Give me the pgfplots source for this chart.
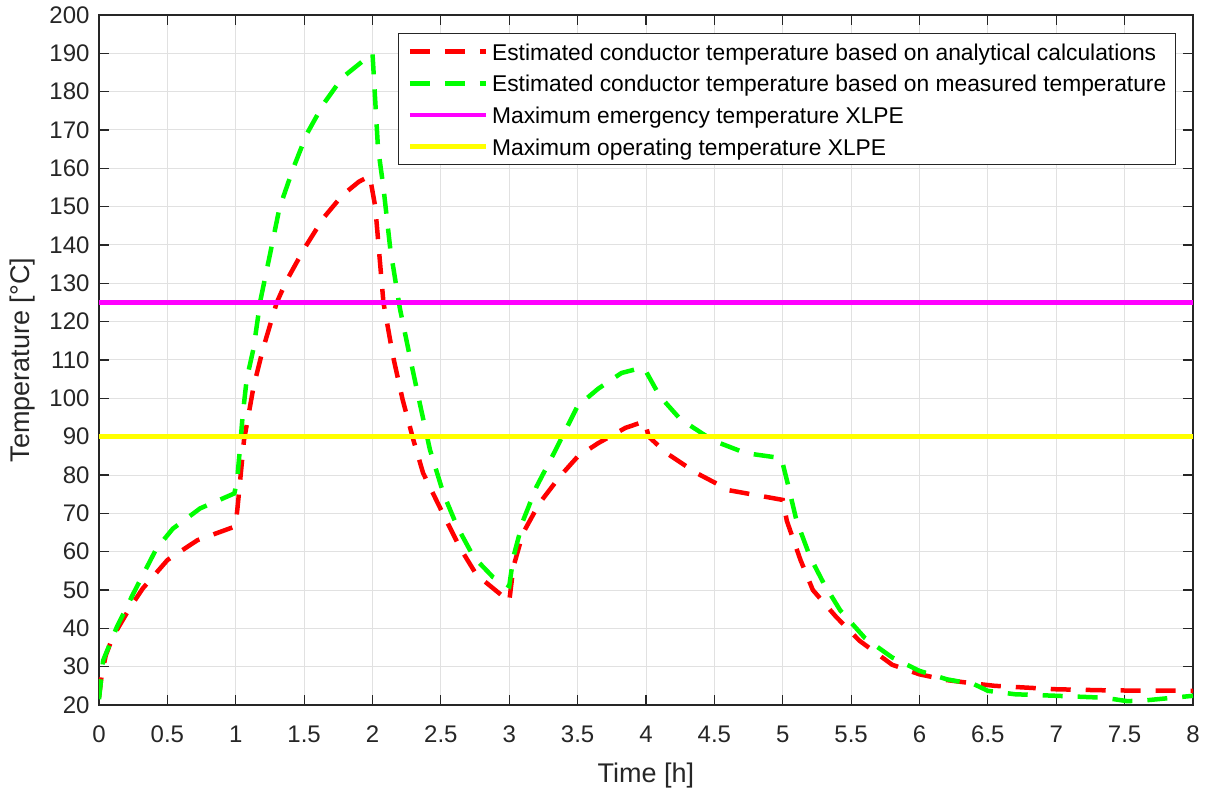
\documentclass[border=0pt]{standalone}
\usepackage{pgfplots}
\pgfplotsset{compat=1.18}
\usepackage{fontspec}
\setmainfont{Liberation Sans}
\definecolor{axgray}{RGB}{38,38,38}
\definecolor{gridgray}{RGB}{225,225,225}
\definecolor{mred}{RGB}{255,0,0}
\definecolor{mgreen}{RGB}{0,255,0}
\definecolor{mmag}{RGB}{255,0,255}
\definecolor{myel}{RGB}{255,255,0}
\begin{document}
\begin{tikzpicture}
\begin{axis}[name=ax, scale only axis, width=1094pt, height=690pt,
  xmin=0, xmax=8, ymin=20, ymax=200,
  xtick={0,0.5,...,8}, ytick={20,30,...,200},
  xticklabels={0,0.5,1,1.5,2,2.5,3,3.5,4,4.5,5,5.5,6,6.5,7,7.5,8},
  yticklabels={20,30,40,50,60,70,80,90,100,110,120,130,140,150,160,170,180,190,200},
  grid=major, major grid style={gridgray, line width=1pt},
  axis line style={axgray, line width=1.2pt},
  tick style={axgray, line width=1.2pt}, tick align=inside, tick pos=both,
  major tick length=10pt,
  ticklabel style={font=\fontsize{24}{28}\selectfont, text=axgray},
  xticklabel style={yshift=-37pt, anchor=base},
  yticklabel style={xshift=-6pt},
  /pgf/number format/assume math mode=true,
  xlabel={Time [h]}, ylabel={Temperature [°C]},
  label style={font=\fontsize{27}{31}\selectfont, text=axgray},
  xlabel style={at={(0.5,0)}, anchor=base, yshift=-77pt},
  ylabel style={yshift=7pt},
  legend cell align=left,
  legend style={at={(0.2733,0.9739)}, anchor=north west, draw=axgray, line width=1.2pt,
    font=\fontsize{22.8}{26}\selectfont, text=black, row sep=7.7pt,
    nodes={inner sep=0pt, text height=20.5pt, text depth=3.5pt},
    inner xsep=9pt, inner ysep=6pt, column sep=0pt},
  legend image code/.code={\draw[#1] (0pt,0pt) -- (76pt,0pt);},
]
\addplot[mred, line width=4.5pt, dash pattern=on 20pt off 15pt] coordinates {
(0,22) (0.02,28) (0.05,33) (0.1,37.7) (0.23,45.6) (0.32,50.4) (0.5,57.8) (0.72,63) (0.99,66.5) (1.0,67)
(1.02,74) (1.06,89) (1.13,103) (1.2,113) (1.3,125) (1.37,130.6) (1.5,139) (1.64,147) (1.78,153) (1.9,156.5) (1.98,158)
(2.02,150) (2.08,125) (2.15,111) (2.22,99.7) (2.3,89) (2.37,80.5) (2.5,71) (2.64,61) (2.76,54) (3.0,47)
(3.03,56) (3.1,64.8) (3.22,72.6) (3.37,79.6) (3.5,84.8) (3.65,88.3) (3.85,92.3) (3.99,94)
(4.02,90) (4.15,85.7) (4.37,80.5) (4.61,76) (4.86,74.4) (5.0,73.5)
(5.03,68) (5.13,57.8) (5.22,50) (5.39,43) (5.56,36.8) (5.8,30.5) (6.0,28) (6.2,26.5) (6.4,25.6) (6.55,25)
(7.0,24.1) (7.4,23.8) (8,23.7)};
\addlegendentry{\hspace{4pt}Estimated conductor temperature based on analytical calculations}
\addplot[mgreen, line width=4.5pt, dash pattern=on 20pt off 15pt] coordinates {
(0,21.5) (0.03,31.6) (0.13,40.3) (0.25,49) (0.42,60.8) (0.54,66) (0.74,71.3) (0.99,75.2)
(1.01,78.7) (1.03,86.6) (1.05,95.3) (1.08,105) (1.13,113) (1.18,125.5) (1.25,137.5) (1.32,149.7) (1.42,160)
(1.52,169) (1.64,176.7) (1.78,183.7) (1.93,188) (2.0,190)
(2.02,177.6) (2.04,165.4) (2.08,155) (2.13,139) (2.2,123.5) (2.28,109.7) (2.35,98) (2.42,86.6) (2.52,75)
(2.62,66.5) (2.74,58.6) (2.88,53.4) (3.0,51)
(3.03,58.6) (3.1,68) (3.2,77) (3.34,86.6) (3.5,98) (3.65,102.5) (3.82,106.6) (3.97,108) (4.0,107)
(4.1,100.6) (4.25,94.6) (4.49,89) (4.73,85.7) (4.99,84.4)
(5.03,78.7) (5.1,68.2) (5.2,58.6) (5.3,51.7) (5.42,44.7) (5.6,37.5) (5.8,32.4) (6.0,28.9) (6.2,26.7) (6.4,25.4)
(6.5,23.7) (6.7,22.8) (7.0,22.4) (7.35,21.9) (7.52,21) (7.65,21.2) (8.0,22.4)};
\addlegendentry{\hspace{4pt}Estimated conductor temperature based on measured temperature}
\addplot[mmag, line width=4.5pt] coordinates {(0,125) (8,125)};
\addlegendentry{\hspace{4pt}Maximum emergency temperature XLPE}
\addplot[myel, line width=4.5pt] coordinates {(0,90) (8,90)};
\addlegendentry{\hspace{4pt}Maximum operating temperature XLPE}
\end{axis}
\path ([shift={(-99pt,-80pt)}]ax.south west) rectangle ([shift={(17pt,15pt)}]ax.north east);
\end{tikzpicture}
\end{document}
